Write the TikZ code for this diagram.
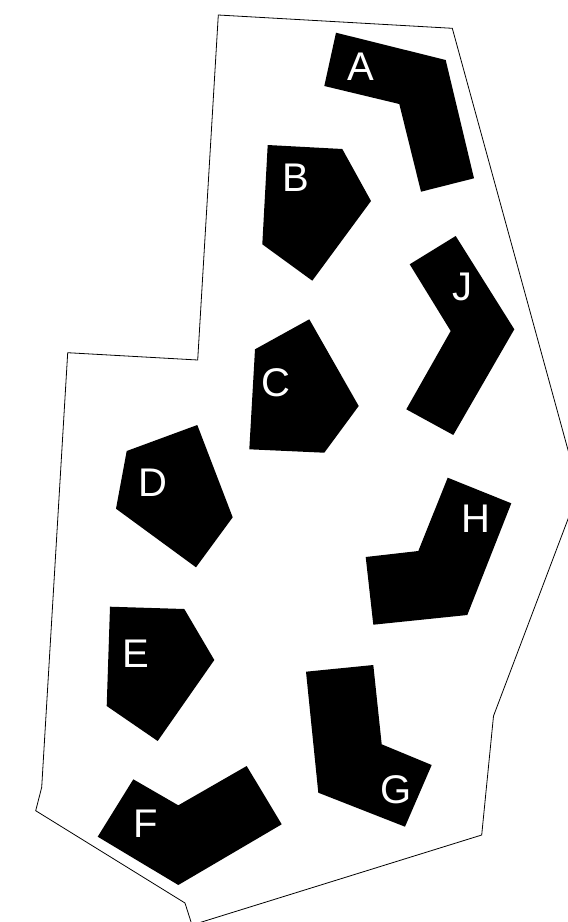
\documentclass[tikz,border=0pt]{standalone}
\usepackage{fontspec}
\newfontfamily\lblfont{Liberation Sans}
\usetikzlibrary{positioning}

\begin{document}
\begin{tikzpicture}[x=1pt,y=-1pt]
  \tikzset{piece/.style={fill=black},
    lbl/.style={text=white,inner sep=0pt,font=\lblfont\fontsize{40}{40}\selectfont}}
  \useasboundingbox (0,0) rectangle (568,922);
  % site outline
  \draw[line width=.8pt] (218.3,15) -- (452.3,28.3) -- (579,490) -- (493.5,716)
    -- (481.7,835) -- (192,925) -- (185,903) -- (35.7,810.7) -- (41.7,787.3)
    -- (67.7,352.7) -- (197.7,360) -- cycle;
  % pieces
  \fill[piece] (336,32.7) -- (445.7,60) -- (474,178.3) -- (421,191.7) -- (399.3,104) -- (324.3,86) -- cycle;
  \fill[piece] (267.7,145) -- (342.3,149) -- (371,201) -- (312.3,280.7) -- (262.3,244.3) -- cycle;
  \fill[piece] (455.7,236) -- (514.3,329.3) -- (453.3,435) -- (406.3,409.3) -- (450.7,331) -- (409.7,264.3) -- cycle;
  \fill[piece] (309.3,319.3) -- (358.7,406) -- (324.3,452.7) -- (249.3,449.3) -- (255,349.3) -- cycle;
  \fill[piece] (197.3,425) -- (232.7,517.3) -- (196,567.3) -- (116,508.7) -- (126.7,451) -- cycle;
  \fill[piece] (447.7,477.7) -- (511.3,503.3) -- (467.3,615) -- (373.3,624.7) -- (365.7,557) -- (418.3,551) -- cycle;
  \fill[piece] (110,606.7) -- (184.3,609) -- (214.3,660) -- (157.7,741) -- (106.7,706) -- cycle;
  \fill[piece] (133.3,779.3) -- (178.3,805.3) -- (246.7,766) -- (281.7,824.3) -- (178.3,885) -- (97.7,836.7) -- cycle;
  \fill[piece] (306,671.7) -- (373.3,665) -- (381.7,744.3) -- (431.7,765) -- (405,826.7) -- (318.3,792.7) -- cycle;
  % labels
  \foreach \n/\x/\y in {A/360.5/66.3,B/295.7/178,J/462.3/286.7,C/275.5/383,
      D/152.5/482.8,H/475.8/519.2,E/135.5/653.7,F/145.5/823.7,G/396/790}
    \node[lbl] (lbl\n) at (\x,\y) {\n};
\end{tikzpicture}
\end{document}
